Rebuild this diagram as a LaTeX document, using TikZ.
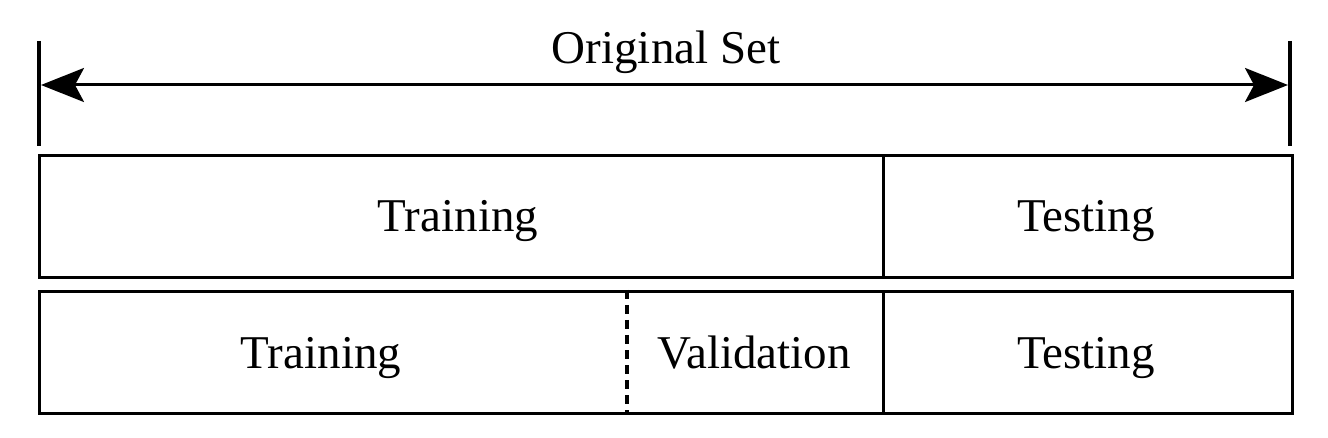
\documentclass[tikz,border=0pt]{standalone}
\usepackage{fontspec}
\setmainfont{Liberation Serif}
\usetikzlibrary{arrows.meta}
\begin{document}
\begin{tikzpicture}[x=1pt,y=-1pt,
  frame/.style={draw=black,line width=3pt},
  lbl/.style={font=\fontsize{47}{50}\selectfont,inner sep=0pt,anchor=base},
  tick/.style={line width=4pt},
  dim/.style={line width=3pt,{Stealth[length=43pt,width=34pt,inset=9pt]}-{Stealth[length=43pt,width=34pt,inset=9pt]}}]
\useasboundingbox (0,0) rectangle (1328,438);
% extent ticks
\coordinate (tlt) at (39,41); \coordinate (tlb) at (39,146);
\coordinate (trt) at (1290,41); \coordinate (trb) at (1290,146);
\draw[tick] (tlt) -- (tlb);
\draw[tick] (trt) -- (trb);
\coordinate (al) at (41,85); \coordinate (ar) at (1288,85);
\draw[dim] (al) -- (ar);
\node[lbl] (orig) at (666,64) {Original Set};
% row 1
\node[frame,minimum width=844pt,minimum height=122pt,anchor=north west,inner sep=0pt] (tr1) at (38,154) {};
\node[frame,minimum width=409pt,minimum height=122pt,anchor=north west,inner sep=0pt] (te1) at (882,154) {};
\node[lbl] (ttr1) at (458,232) {Training};
\node[lbl] (tte1) at (1086,232) {Testing};
% row 2
\node[frame,minimum width=844pt,minimum height=122pt,anchor=north west,inner sep=0pt] (tr2) at (38,290) {};
\node[frame,minimum width=409pt,minimum height=122pt,anchor=north west,inner sep=0pt] (te2) at (882,290) {};
\coordinate (dt) at (627,290); \coordinate (db) at (627,412);
\draw[line width=3.5pt,dash pattern=on 9pt off 6pt] (dt) -- (db);
\node[lbl] (ttr2) at (321,368) {Training};
\node[lbl] (tva2) at (754,368) {Validation};
\node[lbl] (tte2) at (1086,368) {Testing};
\end{tikzpicture}
\end{document}
